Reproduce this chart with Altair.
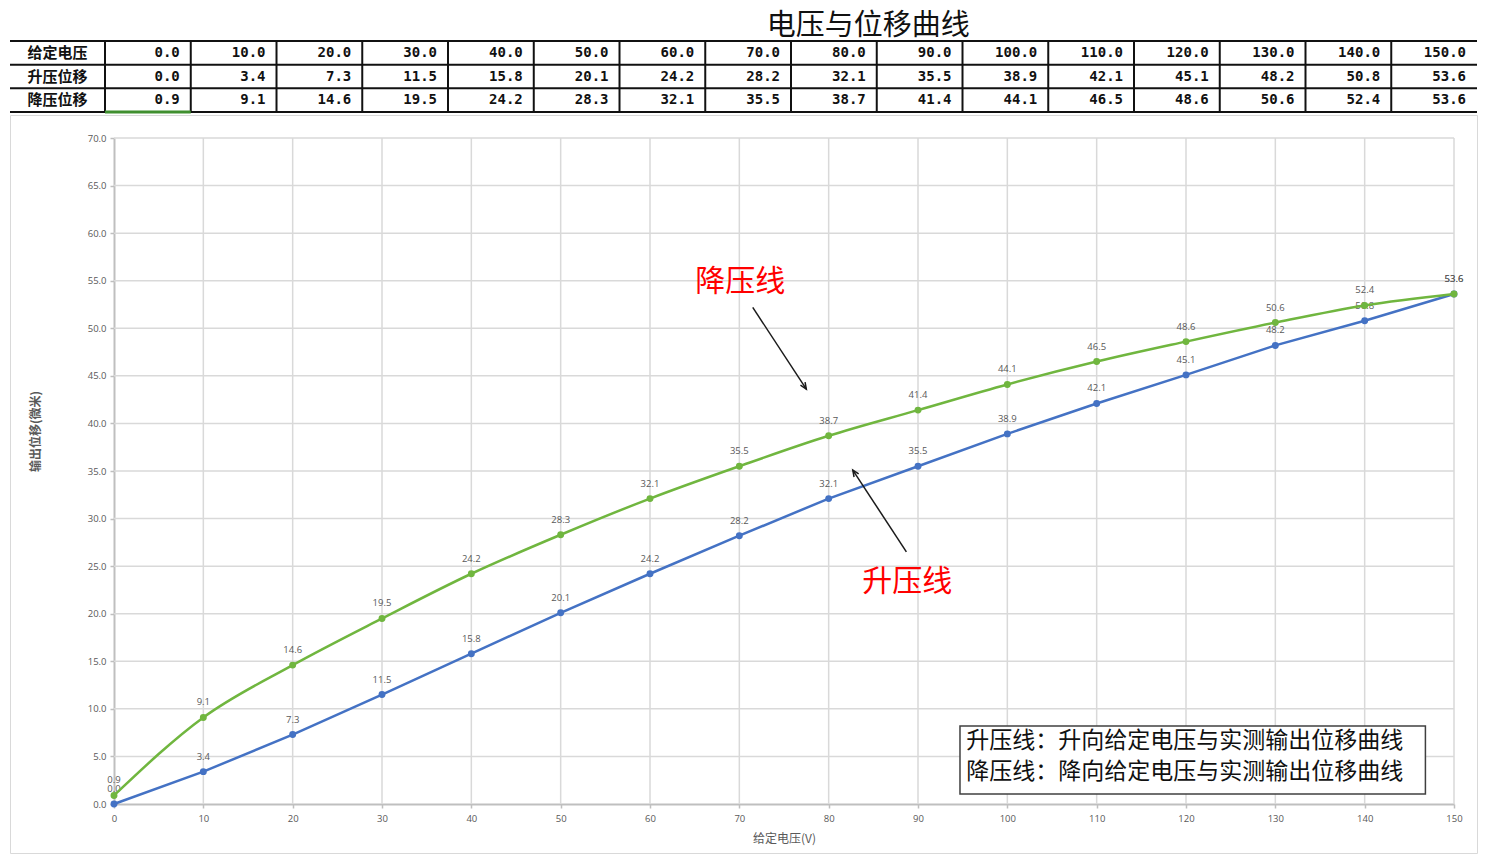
import math
import altair as alt
import pandas as pd

# ---------------- data ----------------
title_text = "电压与位移曲线"
row_labels = ["给定电压", "升压位移", "降压位移"]
voltage = [0, 10, 20, 30, 40, 50, 60, 70, 80, 90, 100, 110, 120, 130, 140, 150]
rise = [0.0, 3.4, 7.3, 11.5, 15.8, 20.1, 24.2, 28.2, 32.1, 35.5, 38.9, 42.1, 45.1, 48.2, 50.8, 53.6]
fall = [0.9, 9.1, 14.6, 19.5, 24.2, 28.3, 32.1, 35.5, 38.7, 41.4, 44.1, 46.5, 48.6, 50.6, 52.4, 53.6]
series_names = ["升压线", "降压线"]
x_ticks = [0, 10, 20, 30, 40, 50, 60, 70, 80, 90, 100, 110, 120, 130, 140, 150]
y_ticks = [0, 5, 10, 15, 20, 25, 30, 35, 40, 45, 50, 55, 60, 65, 70]
x_title = "给定电压(V)"
y_title = "输出位移(微米)"
legend_lines = ["升压线：升向给定电压与实测输出位移曲线", "降压线：降向给定电压与实测输出位移曲线"]

# title position in table units (columns / rows)
title_x = 8.9
title_y = -0.65

# annotation positions in data units
ann_x = [70.1, 88.8]
ann_y = [54.9, 23.3]
arrow_x1 = [71.5, 88.7]
arrow_y1 = [52.2, 26.5]
arrow_x2 = [77.5, 82.7]
arrow_y2 = [43.6, 35.1]
legend_box = {"x": 94.7, "x2": 146.8, "y": 1.05, "y2": 8.2}
legend_text_x = [95.4, 95.4]
legend_text_y = [6.6, 3.35]

BLUE = "#4472C4"
GREEN = "#70B63F"
GRID = "#d9d9d9"
LABEL = "#595959"
CJK = "Noto Sans CJK SC"

# ---------------- table chart ----------------
TW, TH = 1467, 71
cells = []
for r, vals in enumerate([voltage, rise, fall]):
    for c, v in enumerate(vals):
        cells.append({"xr": c + 1, "y": r + 0.5, "txt": f"{float(v):.1f}"})
cells = pd.DataFrame(cells)
heads = pd.DataFrame({"xc": [-0.554] * 3, "y": [0.5, 1.5, 2.5], "txt": row_labels})
hlines = pd.DataFrame({"y": [0, 1, 2, 3], "x": [-1.108] * 4, "x2": [16] * 4})
vlines = pd.DataFrame({"x": list(range(16)), "y": [0] * 16, "y2": [3] * 16})
sel = pd.DataFrame({"x": [0], "x2": [1], "y": [3]})
ttl = pd.DataFrame({"x": [title_x], "y": [title_y], "t": [title_text]})

txs = alt.Scale(domain=[-1.108, 16], nice=False, zero=False)
tys = alt.Scale(domain=[0, 3], reverse=True, nice=False, zero=False)

t_h = alt.Chart(hlines).mark_rule(color="#111111", strokeWidth=2).encode(
    x=alt.X("x:Q", scale=txs, axis=None), x2="x2:Q", y=alt.Y("y:Q", scale=tys, axis=None))
t_v = alt.Chart(vlines).mark_rule(color="#111111", strokeWidth=2).encode(
    x=alt.X("x:Q", scale=txs, axis=None), y=alt.Y("y:Q", scale=tys, axis=None), y2="y2:Q")
t_sel = alt.Chart(sel).mark_rule(color="#3f8f2f", strokeWidth=3).encode(
    x=alt.X("x:Q", scale=txs, axis=None), x2="x2:Q", y=alt.Y("y:Q", scale=tys, axis=None))
t_txt = alt.Chart(cells).mark_text(align="right", baseline="middle", dx=-11, font="DejaVu Sans Mono",
                                   fontWeight="bold", fontSize=14, color="#111111").encode(
    x=alt.X("xr:Q", scale=txs, axis=None), y=alt.Y("y:Q", scale=tys, axis=None), text="txt:N")
t_head = alt.Chart(heads).mark_text(align="center", baseline="middle", font=CJK,
                                    fontWeight="bold", fontSize=15, color="#111111").encode(
    x=alt.X("xc:Q", scale=txs, axis=None), y=alt.Y("y:Q", scale=tys, axis=None), text="txt:N")
t_title = alt.Chart(ttl).mark_text(align="center", baseline="middle", font=CJK,
                                   fontSize=29, color="#111111").encode(
    x=alt.X("x:Q", scale=txs, axis=None), y=alt.Y("y:Q", scale=tys, axis=None), text="t:N")

table = alt.layer(t_h, t_v, t_sel, t_txt, t_head, t_title).properties(
    width=TW, height=TH,
    view=alt.ViewBackground(stroke="transparent"),
)

# ---------------- main chart ----------------
MW, MH = 1467, 738
xs = alt.Scale(domain=[0, 150], range=[104, 1444], nice=False, zero=False)
ys = alt.Scale(domain=[0, 70], range=[689, 23], nice=False, zero=False)

xaxis = alt.Axis(values=x_ticks, format="d", title=x_title, offset=-49, grid=False,
                 domainColor="#bfbfbf", domainWidth=2, tickColor="#bfbfbf", tickSize=4, tickWidth=1.5,
                 labelColor=LABEL, labelFont="Open Sans", labelFontSize=9.5, labelPadding=5,
                 labelFlush=False, labelOverlap=False,
                 titleFont=CJK, titleFontSize=12, titleColor=LABEL, titleFontWeight="normal",
                 titleX=774, titleY=34, titleBaseline="middle", titleAlign="center")
yaxis = alt.Axis(values=y_ticks, format=".1f", title=y_title, offset=-104, grid=False,
                 domainColor="#bfbfbf", domainWidth=2, tickColor="#bfbfbf", tickSize=4, tickWidth=1.5,
                 labelColor=LABEL, labelFont="Open Sans", labelFontSize=9.5, labelPadding=4,
                 labelFlush=False, labelOverlap=False,
                 titleFont=CJK, titleFontSize=12, titleColor=LABEL, titleFontWeight="bold",
                 titleX=-79, titleY=316, titleAngle=270, titleBaseline="middle", titleAlign="center")


def X(f):
    return alt.X(f"{f}:Q", scale=xs, axis=xaxis)


def Y(f):
    return alt.Y(f"{f}:Q", scale=ys, axis=yaxis)


gv = pd.DataFrame({"x": [t for t in x_ticks if t > 0], "y": 0, "y2": 70})
gh = pd.DataFrame({"y": [t for t in y_ticks if t > 0], "x": 0, "x2": 150})
grid_v = alt.Chart(gv).mark_rule(color=GRID, strokeWidth=1.5).encode(x=X("x"), y=Y("y"), y2="y2:Q")
grid_h = alt.Chart(gh).mark_rule(color=GRID, strokeWidth=1.5).encode(y=Y("y"), x=X("x"), x2="x2:Q")

df_r = pd.DataFrame({"voltage": voltage, "value": rise, "series": series_names[0]})
df_f = pd.DataFrame({"voltage": voltage, "value": fall, "series": series_names[1]})


def series_layers(df, color, interp):
    base = alt.Chart(df).encode(x=X("voltage"), y=Y("value"))
    line = base.mark_line(color=color, strokeWidth=2.5, interpolate=interp)
    pts = base.mark_point(filled=True, size=48, color=color, opacity=1)
    lbl = base.mark_text(dy=-15, baseline="middle", font="Open Sans", fontSize=9.5, color=LABEL).encode(
        text=alt.Text("value:Q", format=".1f"))
    return [line, pts, lbl]


ann = pd.DataFrame({"x": ann_x, "y": ann_y, "t": ["降压线", "升压线"]})
ann_txt = alt.Chart(ann).mark_text(font=CJK, fontSize=30, color="#ff0000", baseline="middle").encode(
    x=X("x"), y=Y("y"), text="t:N")

px_x = 1340 / 150
px_y = 666 / 70
angles = []
for a, b, c, d in zip(arrow_x1, arrow_y1, arrow_x2, arrow_y2):
    dx = (c - a) * px_x
    dy = -(d - b) * px_y
    angles.append(math.degrees(math.atan2(dx, -dy)) % 360)
arr = pd.DataFrame({"x": arrow_x1, "y": arrow_y1, "x2": arrow_x2, "y2": arrow_y2, "ang": angles})
arr_line = alt.Chart(arr).mark_rule(color="#1a1a1a", strokeWidth=1.5).encode(
    x=X("x"), y=Y("y"), x2="x2:Q", y2="y2:Q")
arr_head = alt.Chart(arr).mark_point(shape="M -0.55 1.3 L 0 0 L 0.55 1.3", filled=False, size=100,
                                     color="#1a1a1a", strokeWidth=1.5, opacity=1).encode(
    x=X("x2"), y=Y("y2"), angle=alt.Angle("ang:Q", scale=None))

lb = pd.DataFrame([legend_box])
leg_rect = alt.Chart(lb).mark_rect(fill="white", stroke="#404040", strokeWidth=1.5).encode(
    x=X("x"), x2="x2:Q", y=Y("y"), y2="y2:Q")
lt = pd.DataFrame({"x": legend_text_x, "y": legend_text_y, "t": legend_lines})
leg_txt = alt.Chart(lt).mark_text(align="left", baseline="middle", font=CJK, fontSize=23, color="#111111").encode(
    x=X("x"), y=Y("y"), text="t:N")

main = alt.layer(
    grid_v, grid_h,
    *series_layers(df_r, BLUE, "linear"),
    *series_layers(df_f, GREEN, "monotone"),
    arr_line, arr_head, ann_txt, leg_rect, leg_txt,
).properties(width=MW, height=MH, view=alt.ViewBackground(stroke="#d9d9d9", strokeWidth=1))

chart = alt.vconcat(table, main, spacing=0).properties(
    padding={"left": 0, "top": 3, "right": 5, "bottom": 0},
    background="white",
)

chart.save("out.html", embed_options={"renderer": "svg", "actions": False})
